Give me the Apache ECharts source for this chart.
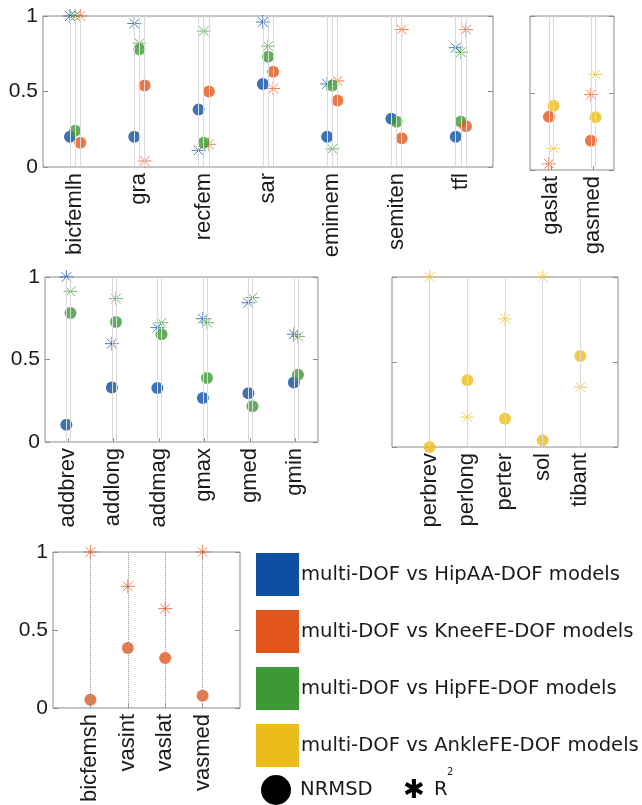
<!DOCTYPE html>
<html>
<head>
<meta charset="utf-8">
<script src="https://cdn.jsdelivr.net/npm/echarts@6/dist/echarts.min.js"></script>
<style>
html,body{margin:0;padding:0;background:#fff;}
#chart{width:642px;height:805px;}
</style>
</head>
<body>
<div id="chart"></div>
<script>
// ---------- data ----------
const cats1 = ['bicfemlh','gra','recfem','sar','emimem','semiten','tfl'];
const nrmsd1Blue   = [0.20, 0.20, 0.38, 0.55, 0.20, 0.32, 0.20];
const nrmsd1Green  = [0.24, 0.78, 0.16, 0.73, 0.54, 0.30, 0.30];
const nrmsd1Orange = [0.16, 0.54, 0.50, 0.63, 0.44, 0.19, 0.27];
const r2_1Blue     = [1.00, 0.95, 0.11, 0.96, 0.55, null, 0.79];
const r2_1Green    = [1.00, 0.82, 0.90, 0.80, 0.12, null, 0.76];
const r2_1Orange   = [1.00, 0.04, 0.15, 0.52, 0.57, 0.91, 0.91];

const cats2 = ['gaslat','gasmed'];
const nrmsd2Orange = [0.345, 0.19];
const nrmsd2Yellow = [0.417, 0.342];
const r2_2Orange   = [0.04, 0.49];
const r2_2Yellow   = [0.14, 0.62];

const cats3 = ['addbrev','addlong','addmag','gmax','gmed','gmin'];
const nrmsd3Blue  = [0.105, 0.33, 0.327, 0.267, 0.295, 0.36];
const nrmsd3Green = [0.782, 0.727, 0.653, 0.388, 0.216, 0.408];
const r2_3Blue    = [1.00, 0.596, 0.693, 0.747, 0.844, 0.653];
const r2_3Green   = [0.913, 0.869, 0.723, 0.723, 0.875, 0.64];

const cats4 = ['perbrev','perlong','perter','sol','tibant'];
const nrmsd4Yellow = [0.0, 0.393, 0.166, 0.039, 0.535];
const r2_4Yellow   = [1.0, 0.176, 0.754, 1.0, 0.352];

const cats5 = ['bicfemsh','vasint','vaslat','vasmed'];
const nrmsd5Orange = [0.053, 0.385, 0.32, 0.079];
const r2_5Orange   = [1.0, 0.78, 0.637, 1.0];

const legendLabels = [
  'multi-DOF vs HipAA-DOF models',
  'multi-DOF vs KneeFE-DOF models',
  'multi-DOF vs HipFE-DOF models',
  'multi-DOF vs AnkleFE-DOF models'
];

// ---------- styles ----------
const C = {blue:'#0d4fa3', orange:'#e2561b', green:'#3d9935', yellow:'#ebbd1c'};
const STAR = 'path://M10,0L10,20M0,10L20,10M3,3L17,17M3,17L17,3';
const AXFONT = '"Liberation Sans", Arial, sans-serif';
const LGFONT = '"DejaVu Sans", Verdana, sans-serif';

const panels = [
  {cats:cats1, grid:{left:43, top:16, width:450, height:151}, xmin:0.5, xmax:7.5, yLabels:true, dotted:false,
   series:[
     {c:C.blue,   off:-0.08, n:nrmsd1Blue,   r:r2_1Blue},
     {c:C.green,  off:0,     n:nrmsd1Green,  r:r2_1Green},
     {c:C.orange, off:0.08,  n:nrmsd1Orange, r:r2_1Orange}]},
  {cats:cats2, grid:{left:530, top:16, width:84, height:154}, xmin:0.5, xmax:2.5, yLabels:false, dotted:false,
   series:[
     {c:C.orange, off:-0.05, n:nrmsd2Orange, r:r2_2Orange},
     {c:C.yellow, off:0.06,  n:nrmsd2Yellow, r:r2_2Yellow}]},
  {cats:cats3, grid:{left:45, top:277, width:273, height:165}, xmin:0.5, xmax:6.5, yLabels:true, dotted:false,
   series:[
     {c:C.blue,  off:-0.03, n:nrmsd3Blue,  r:r2_3Blue},
     {c:C.green, off:0.06,  n:nrmsd3Green, r:r2_3Green}]},
  {cats:cats4, grid:{left:392, top:277, width:226, height:170}, xmin:0, xmax:6, yLabels:false, dotted:false,
   series:[
     {c:C.yellow, off:0, n:nrmsd4Yellow, r:r2_4Yellow}]},
  {cats:cats5, grid:{left:53, top:552, width:187, height:156}, xmin:0, xmax:5, yLabels:true, dotted:true,
   series:[
     {c:C.orange, off:0, n:nrmsd5Orange, r:r2_5Orange}]}
];

const grid = [], xAxis = [], yAxis = [], series = [];
panels.forEach((p, gi) => {
  grid.push(Object.assign({show:true, borderColor:'#8c8c8c', borderWidth:1, backgroundColor:'#fff'}, p.grid));
  const pos = p.cats.map((c, i) => i + 1);
  xAxis.push({
    type:'value', gridIndex:gi, min:p.xmin, max:p.xmax,
    axisLine:{show:false}, splitLine:{show:false},
    axisTick:{show:true, inside:true, length:4, customValues:pos, lineStyle:{color:'#8c8c8c'}},
    axisLabel:{customValues:pos, rotate:90, margin:6, fontSize:22, color:'#1a1a1a',
      fontFamily:AXFONT,
      formatter:v => p.cats[Math.round(v) - 1] || ''}
  });
  yAxis.push({
    type:'value', gridIndex:gi, min:0, max:1, interval:0.5,
    axisLine:{show:false}, splitLine:{show:false},
    axisTick:{show:true, inside:true, length:5, lineStyle:{color:'#8c8c8c'}},
    axisLabel:{show:p.yLabels, fontSize:21, color:'#1a1a1a', margin:5,
      fontFamily:AXFONT,
      formatter:v => String(v)}
  });
  yAxis.push({
    type:'value', gridIndex:gi, min:0, max:1, interval:0.5, position:'right',
    axisLine:{show:false}, splitLine:{show:false}, axisLabel:{show:false},
    axisTick:{show:true, inside:true, length:5, lineStyle:{color:'#8c8c8c'}}
  });
  const xi = gi, yi = gi * 2;
  // vertical guide lines
  p.series.forEach(s => {
    series.push({
      type:'scatter', xAxisIndex:xi, yAxisIndex:yi, data:[], z:1, silent:true,
      markLine:{silent:true, symbol:['none','none'], label:{show:false},
        lineStyle:{color:p.dotted ? '#9a9a9a' : '#dadada', width:1, type:p.dotted ? 'dotted' : 'solid'},
        emphasis:{disabled:true},
        data:p.cats.map((c, i) => ({xAxis:i + 1 + s.off}))}
    });
  });
  // R^2 stars
  p.series.forEach(s => {
    series.push({
      type:'scatter', xAxisIndex:xi, yAxisIndex:yi, z:2, clip:false, silent:true,
      symbol:STAR, symbolSize:14,
      itemStyle:{color:'none', borderColor:s.c, borderWidth:1, opacity:0.75},
      data:s.r.map((v, i) => v == null ? null : [i + 1 + s.off, v]).filter(d => d)
    });
  });
  // NRMSD dots
  p.series.forEach(s => {
    series.push({
      type:'scatter', xAxisIndex:xi, yAxisIndex:yi, z:3, clip:false, silent:true,
      symbol:'circle', symbolSize:12,
      itemStyle:{color:s.c},
      data:s.n.map((v, i) => v == null ? null : [i + 1 + s.off, v]).filter(d => d)
    });
  });
});

// ---------- legend graphics ----------
const legendColors = [C.blue, C.orange, C.green, C.yellow];
const graphic = [];
legendColors.forEach((c, i) => {
  const y = 553 + i * 57;
  graphic.push({type:'rect', left:256, top:y, shape:{width:43, height:43}, style:{fill:c}});
  graphic.push({type:'text', x:301, y:y + 21.5, style:{text:legendLabels[i], fill:'#1a1a1a',
    font:'19.6px ' + LGFONT, verticalAlign:'middle'}});
});
graphic.push({type:'circle', shape:{cx:276, cy:790, r:15}, style:{fill:'#000'}});
graphic.push({type:'text', x:300, y:790, style:{text:'NRMSD', fill:'#1a1a1a',
  font:'19.6px ' + LGFONT, verticalAlign:'middle'}});
graphic.push({type:'text', x:403, y:791, style:{text:'✱', fill:'#000',
  font:'26px "DejaVu Sans", sans-serif', verticalAlign:'middle'}});
graphic.push({type:'text', x:434, y:790, style:{text:'R', fill:'#1a1a1a',
  font:'19.6px ' + LGFONT, verticalAlign:'middle'}});
graphic.push({type:'text', x:447, y:772, style:{text:'2', fill:'#1a1a1a',
  font:'10px ' + LGFONT, verticalAlign:'middle'}});

const chart = echarts.init(document.getElementById('chart'), null, {renderer:'canvas'});
chart.setOption({
  backgroundColor:'#fff',
  animation:false,
  grid, xAxis, yAxis, series, graphic
});
</script>
</body>
</html>
